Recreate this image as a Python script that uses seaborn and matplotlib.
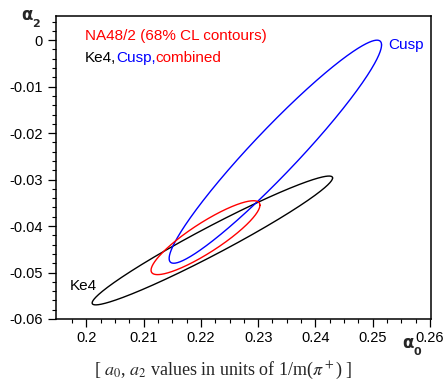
import numpy as np
import pandas as pd
import matplotlib
matplotlib.use("Agg")
import matplotlib.pyplot as plt
import seaborn as sns

# Ellipse parameters (68% CL contours)
names = ["Ke4", "Cusp", "combined"]
center_a0 = [0.2220, 0.2330, 0.2208]
center_a2 = [-0.0431, -0.0240, -0.0425]
extent_a0 = [0.0210, 0.01855, 0.00951]
extent_a2 = [0.01386, 0.0240, 0.00795]
corr = [0.970, 0.957, 0.880]
colors = ["black", "blue", "red"]

xticks = [0.20, 0.21, 0.22, 0.23, 0.24, 0.25, 0.26]
xticklabels = ["0.2", "0.21", "0.22", "0.23", "0.24", "0.25", "0.26"]
yticks = [0.0, -0.01, -0.02, -0.03, -0.04, -0.05, -0.06]
yticklabels = ["0", "-0.01", "-0.02", "-0.03", "-0.04", "-0.05", "-0.06"]

sns.set_theme(style="white")
plt.rcParams["font.family"] = ["Liberation Sans", "DejaVu Sans"]

W, H = 445, 382
fig = plt.figure(figsize=(W / 100, H / 100), dpi=100)
ax = fig.add_axes([55.5 / W, 1 - 319 / H, (430.5 - 55.5) / W, (319 - 16) / H])

t = np.linspace(0, 2 * np.pi, 721)
rows = []
for n, cx, cy, sx, sy, r in zip(names, center_a0, center_a2, extent_a0, extent_a2, corr):
    xs = cx + sx * np.cos(t)
    ys = cy + sy * (r * np.cos(t) + np.sqrt(1 - r * r) * np.sin(t))
    rows.append(pd.DataFrame({"a0": xs, "a2": ys, "set": n}))
df = pd.concat(rows, ignore_index=True)

for n, c in zip(names, colors):
    sub = df[df["set"] == n]
    sns.lineplot(data=sub, x="a0", y="a2", sort=False, estimator=None,
                 color=c, lw=1.0, ax=ax)

ax.set_xlim(0.1946, 0.2601)
ax.set_ylim(-0.06, 0.0052)
ax.set_xlabel("")
ax.set_ylabel("")
ax.set_xticks(xticks)
ax.set_xticklabels(xticklabels)
ax.set_yticks(yticks)
ax.set_yticklabels(yticklabels)
ax.set_xticks(np.arange(0.1975, 0.2601, 0.0025), minor=True)
ax.set_yticks(np.arange(-0.06, 0.0053, 0.002), minor=True)
ax.tick_params(axis="both", which="major", direction="out", length=6, width=0.9,
               labelsize=10.5, color="black", labelcolor="black", pad=3)
ax.tick_params(axis="both", which="minor", direction="out", length=3, width=0.8,
               color="black")
ax.tick_params(axis="x", which="both", bottom=True)
ax.tick_params(axis="y", which="both", left=True)
for s in ax.spines.values():
    s.set_color("black")
    s.set_linewidth(1.1)

def fx(px):
    return px / W

def fy(py):
    return 1 - py / H

FS = 11
# Legend-like texts
fig.text(fx(85), fy(36), "NA48/2 (68% CL contours)", color="red", fontsize=FS,
         va="center", ha="left")
t1 = fig.text(fx(85), fy(58), "Ke4,", color="black", fontsize=FS, va="center", ha="left")
t2 = ax.annotate("Cusp,", xy=(1, 0), xycoords=t1, va="bottom", ha="left",
                 color="blue", fontsize=FS)
t3 = ax.annotate("combined", xy=(1, 0), xycoords=t2, va="bottom", ha="left",
                 color="red", fontsize=FS)

fig.text(fx(388), fy(45), "Cusp", color="blue", fontsize=FS, va="center", ha="left")
fig.text(fx(70), fy(286), "Ke4", color="black", fontsize=FS, va="center", ha="left")

# Axis titles (symbol-font a rendered as alpha, with subscript)
ya = fig.text(fx(21), fy(20), "α", fontsize=12, fontweight="bold", va="baseline",
              ha="left", family="DejaVu Sans")
ax.annotate("2", xy=(1, 0), xycoords=ya, xytext=(0, -2), textcoords="offset points",
            va="baseline", ha="left", fontsize=8, fontweight="bold", family="DejaVu Sans",
            annotation_clip=False)
xa = fig.text(fx(402), fy(348), "α", fontsize=12, fontweight="bold", va="baseline",
              ha="left", family="DejaVu Sans")
ax.annotate("0", xy=(1, 0), xycoords=xa, xytext=(0, -2), textcoords="offset points",
            va="baseline", ha="left", fontsize=8, fontweight="bold", family="DejaVu Sans",
            annotation_clip=False)

# Caption
fig.text(fx(223), fy(370), r"[ $a_0$, $a_2$ values in units of 1/m($\pi^+$) ]",
         fontsize=13, va="center", ha="center", family="Liberation Serif",
         math_fontfamily="stix")

fig.savefig("out.png", dpi=100, facecolor="white")
